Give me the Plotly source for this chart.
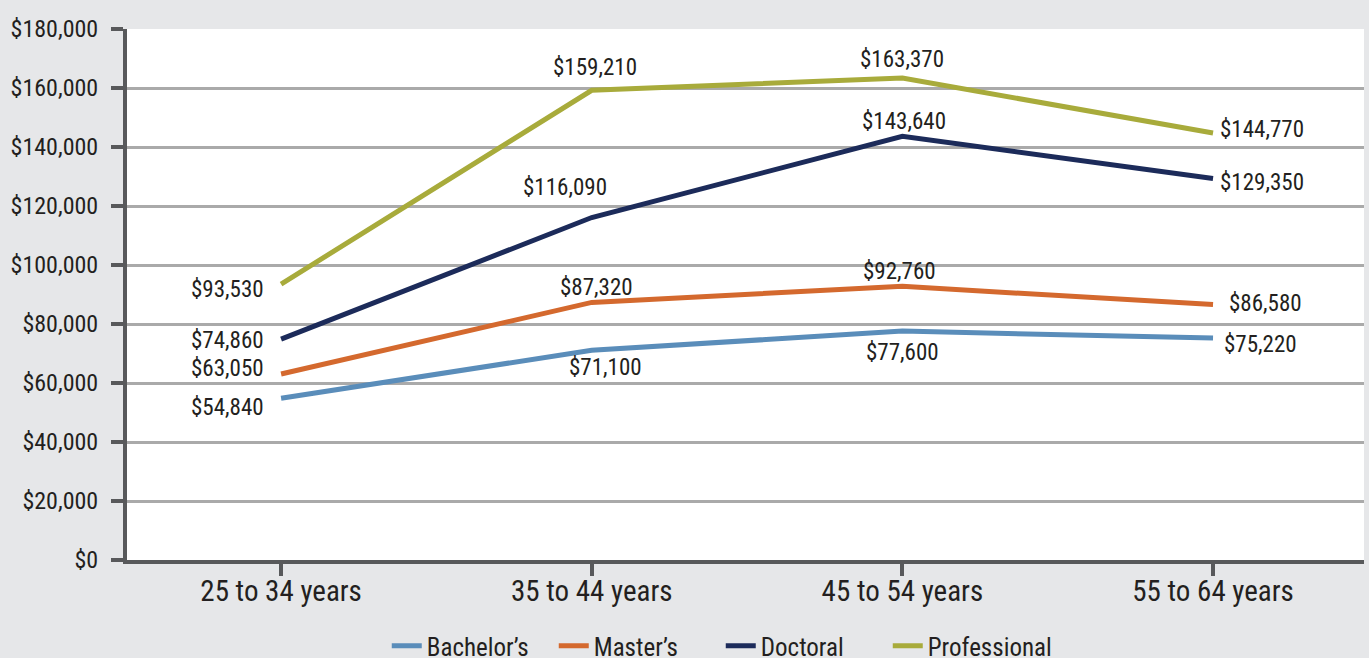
import plotly.graph_objects as go

categories = ["25 to 34 years", "35 to 44 years", "45 to 54 years", "55 to 64 years"]
series_names = ["Bachelor\u2019s", "Master\u2019s", "Doctoral", "Professional"]
bachelors = [54840, 71100, 77600, 75220]
masters = [63050, 87320, 92760, 86580]
doctoral = [74860, 116090, 143640, 129350]
professional = [93530, 159210, 163370, 144770]

colors = ["#5a8dba", "#d4692e", "#1c2b5a", "#a8ab3b"]
# label offsets (pixels) per series per point: (dx, dy)
offsets = [
    [(-54, -9), (14, -17), (0, -21), (47, -6)],
    [(-54, 6), (5, 15), (-3, 15), (52, 1)],
    [(-54, -1), (-27, 30), (2, 15), (49, -4)],
    [(-54, -5), (3, 23), (0, 19), (49, 3)],
]

FONT = "Liberation Sans Narrow, Roboto Condensed, Arial Narrow, sans-serif"
TXT = "#231f20"
AXC = "#58595b"

fig = go.Figure()
all_series = [bachelors, masters, doctoral, professional]
for name, vals, col in zip(series_names, all_series, colors):
    fig.add_trace(go.Scatter(
        x=categories, y=vals, mode="lines", name=name,
        line=dict(color=col, width=5), hoverinfo="skip"))

annotations = []
for vals, offs in zip(all_series, offsets):
    for c, v, (dx, dy) in zip(categories, vals, offs):
        annotations.append(dict(
            x=c, y=v, xref="x", yref="y", text="${:,}".format(v),
            showarrow=False, xshift=dx, yshift=dy,
            font=dict(family=FONT, size=23, color=TXT)))

fig.update_layout(
    width=1369, height=658, autosize=False,
    margin=dict(l=127, r=5, t=29, b=98, autoexpand=False),
    paper_bgcolor="#e6e7e9", plot_bgcolor="#ffffff",
    font=dict(family=FONT, size=23, color=TXT),
    showlegend=True,
    legend=dict(orientation="h", x=0.48, xanchor="center",
                y=-0.162, yanchor="middle",
                font=dict(family=FONT, size=25, color=TXT),
                bgcolor="rgba(0,0,0,0)", itemwidth=30, traceorder="normal",
                entrywidth=122),
    annotations=annotations,
)
fig.update_xaxes(
    range=[-0.496, 3.486], showline=True, linecolor=AXC, linewidth=4,
    ticks="outside", ticklen=12, tickwidth=4, tickcolor=AXC, tickangle=0,
    ticklabelstandoff=-10,
    showgrid=False, tickfont=dict(family=FONT, size=29, color=TXT), zeroline=False)
fig.update_yaxes(
    range=[0, 180000], dtick=20000, showline=True, linecolor=AXC, linewidth=4,
    ticks="outside", ticklen=12, tickwidth=4, tickcolor=AXC,
    ticklabelstandoff=8,
    showgrid=True, gridcolor="#aaaaaa", gridwidth=3, zeroline=False,
    tickprefix="$", tickformat=",", tickfont=dict(family=FONT, size=24, color=TXT))

fig.write_html("out.html", config={"displayModeBar": False},
               post_script="document.body.style.margin='0';")
